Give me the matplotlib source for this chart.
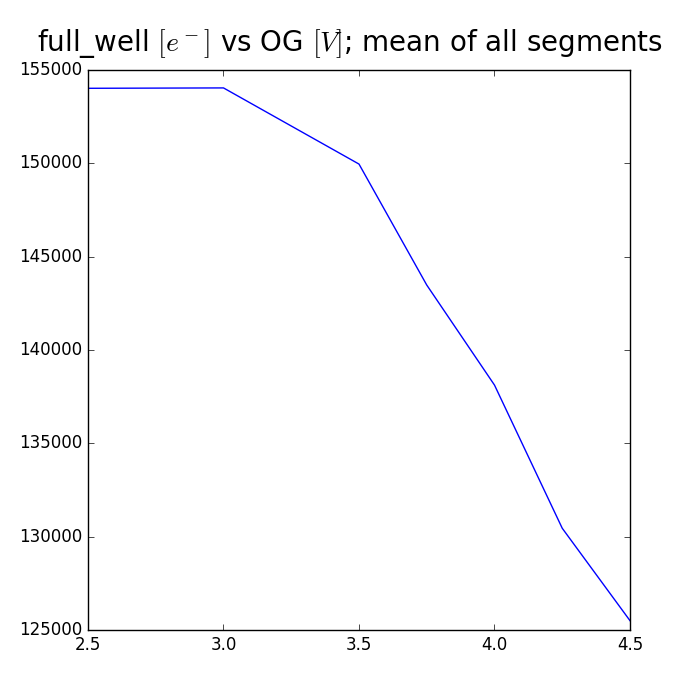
import numpy as np
import matplotlib
matplotlib.use('Agg')
import matplotlib.pyplot as plt

plt.style.use('classic')

og = [2.5, 3.0, 3.5, 3.75, 4.0, 4.25, 4.5]
full_well = [154020, 154040, 149960, 143480, 138120, 130450, 125500]

fig = plt.figure(figsize=(7, 7), dpi=100)
ax = fig.add_axes([88/700, 70/700, 542/700, 560/700])
ax.plot(og, full_well, 'b-')
ax.set_xlim(2.5, 4.5)
ax.set_ylim(125000, 155000)
ax.set_xticks([2.5, 3.0, 3.5, 4.0, 4.5])
ax.ticklabel_format(useOffset=False, style='plain', axis='y')
fig.text(0.5, 1 - 51/700, r'full_well $[e^-]$ vs OG $[V]$; mean of all segments',
         fontsize=20, ha='center', va='baseline')

fig.savefig('out.png', dpi=100, facecolor='white')
